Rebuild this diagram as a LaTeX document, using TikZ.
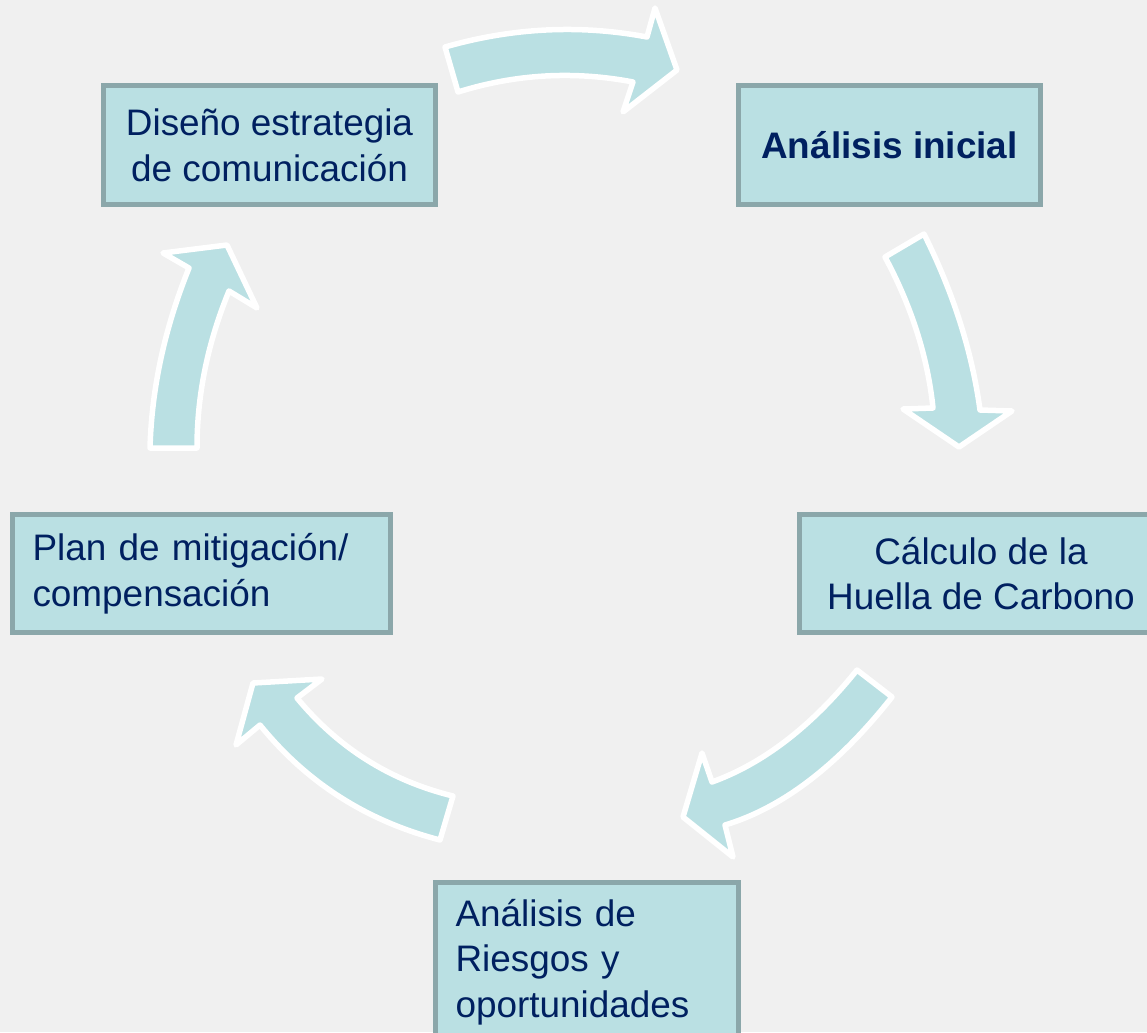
\documentclass[tikz,border=0pt]{standalone}
\usepackage{fontspec}
\setmainfont{Liberation Sans}

\definecolor{bgGray}{HTML}{F0F0F0}
\definecolor{boxFill}{HTML}{BAE0E3}
\definecolor{boxLine}{HTML}{8BA7AA}
\definecolor{textNavy}{HTML}{002060}

\begin{document}
\begin{tikzpicture}[x=0.02cm, y=-0.02cm,
    stage/.style={draw=boxLine, line width=0.1cm, fill=boxFill, text=textNavy,
      font=\fontsize{21}{26}\selectfont, inner sep=0pt, align=center},
    leftstage/.style={stage, align=left, inner xsep=0.4cm},
    cyclearrow/.style={draw=white, line width=0.11cm, line join=round, fill=boxFill}]

  % Canvas
  \clip (0,0) rectangle (1147,1032);
  \fill[bgGray] (0,0) rectangle (1147,1032);

  % Stages of the cycle
  \node[stage, minimum width=6.04cm, minimum height=2.38cm,
    font=\fontsize{21}{26}\selectfont\bfseries] (init) at (889.5,145) {Análisis inicial};
  \node[stage, minimum width=7.26cm, minimum height=2.36cm] (calc) at (981,573.5)
    {Cálculo de la\\Huella de Carbono};
  \node[leftstage, text width=5.26cm, minimum height=3.18cm] (risk) at (587,962)
    {Análisis de\\Riesgos y\\oportunidades};
  \node[leftstage, text width=6.76cm, minimum height=2.36cm] (plan) at (201.5,573.5)
    {Plan de mitigación/\\compensación};
  \node[stage, minimum width=6.64cm, minimum height=2.38cm] (design) at (269.5,145)
    {Diseño estrategia\\de comunicación};

  % Curved arrows between the stages
  \draw[cyclearrow] (458,92) .. controls (515.7,74) and (574,70.7) .. (633,82)
    -- (623,112) -- (677,70) -- (655,8) -- (647,37)
    .. controls (579.7,24.3) and (512.3,27.7) .. (445,47) -- cycle;
  \draw[cyclearrow] (924,234) .. controls (953.3,292.7) and (972,351.3) .. (980,410)
    -- (1012,411) -- (959,447) -- (903,409) -- (933,408)
    .. controls (927.7,357) and (911.7,306.7) .. (885,257) -- cycle;
  \draw[cyclearrow] (892,697) .. controls (838.3,765) and (782.7,807.7) .. (725,825)
    -- (733,857) -- (683,817) -- (702,753) -- (712,782)
    .. controls (763.7,763.3) and (812,726) .. (857,670) -- cycle;
  \draw[cyclearrow] (453,796) .. controls (390.3,780.7) and (338.3,748) .. (297,698)
    -- (322,679) -- (253,683) -- (236,745) -- (260,725)
    .. controls (306.7,782.7) and (366.7,821) .. (440,840) -- cycle;
  \draw[cyclearrow] (197,448) .. controls (197,395) and (207.7,342.7) .. (229,291)
    -- (257,308) -- (227,245) -- (163,253) -- (189,268)
    .. controls (164.7,328) and (151.7,388) .. (150,448) -- cycle;

\end{tikzpicture}
\end{document}
